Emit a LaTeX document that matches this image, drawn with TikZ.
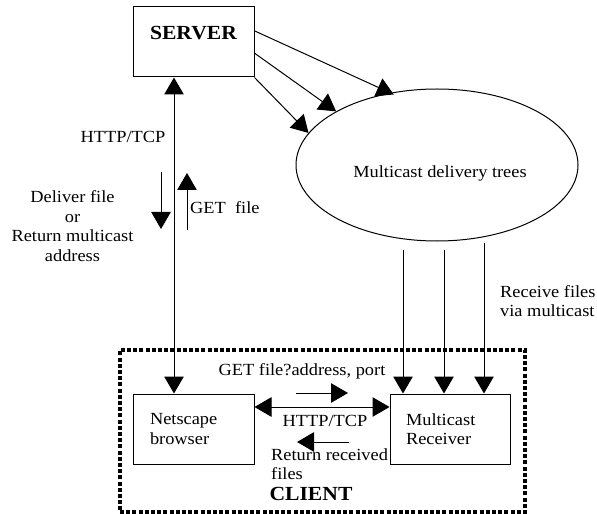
\documentclass[tikz,border=0pt]{standalone}
\usepackage{fontspec}
\setmainfont{Liberation Serif}[FakeStretch=1.08]
\usetikzlibrary{arrows.meta,shapes.geometric,calc}
\begin{document}
\begin{tikzpicture}[x=1bp,y=-1bp,
  font=\fontsize{17bp}{19.5bp}\selectfont,
  box/.style={draw, line width=1bp, inner sep=0pt},
  bigfont/.style={font=\fontsize{20bp}{24bp}\selectfont\bfseries},
  lbl/.style={inner sep=0pt},
  arr/.style={line width=1bp, -{Triangle[length=17bp,width=19.5bp]}},
  arrtwo/.style={line width=1bp, {Triangle[length=17bp,width=19.5bp]}-{Triangle[length=17bp,width=19.5bp]}}]
\useasboundingbox (0,0) rectangle (597,514);

% client dotted frame
\node[draw, line width=3.2bp, dash pattern=on 4bp off 2.2bp, minimum width=405bp, minimum height=162bp, inner sep=0pt] (client) at (322.5,431) {};
\node[lbl, bigfont] (clientlbl) at (311,494) {CLIENT};

% server box
\node[box, minimum width=121bp, minimum height=70bp] (server) at (193.5,42) {};
\node[lbl, bigfont] (serverlbl) at (193.5,33) {SERVER};

% ellipse
\node[draw, ellipse, line width=1bp, minimum width=282bp, minimum height=152bp, inner sep=0pt] (mdt) at (437,165) {};
\node[lbl] (mdtlbl) at (440,173) {Multicast delivery trees};

% client boxes
\node[box, minimum width=121bp, minimum height=70bp, text width=87bp, inner xsep=17bp, align=left] (ns) at (193.5,429) {Netscape\\browser};
\node[box, minimum width=120bp, minimum height=70bp, text width=88bp, inner xsep=16bp, align=left] (rcv) at (450,429) {Multicast\\Receiver};

% server -> multicast tree arrows
\draw[arr, shorten >=-4bp] ($(server.north east)!0.343!(server.south east)$) -- (mdt.123);
\draw[arr] ($(server.north east)!0.657!(server.south east)$) -- (mdt.152.5);
\draw[arr] (server.south east) -- (mdt.166.9);

% server <-> browser
\coordinate (sn) at (174,250);
\draw[arrtwo] (server.south -| sn) -- (ns.north -| sn);
\node[lbl] (httpa) at (123,137) {HTTP/TCP};
\coordinate (dA) at (161,172);
\coordinate (dB) at (161,229);
\draw[arr] (dA) -- (dB);
\coordinate (uA) at (187,230);
\coordinate (uB) at (187,173);
\draw[arr] (uA) -- (uB);
\node[lbl, align=center] (deliver) at (72.5,226) {Deliver file\\or\\Return multicast\\address};
\node[lbl, anchor=west] (getfile) at (190,208) {GET\ \ file};

% multicast receive arrows
\coordinate (v1) at (403,250);
\coordinate (v2) at (444,250);
\coordinate (v3) at (484,243);
\draw[arr] (v1) -- (v1 |- rcv.north);
\draw[arr] (v2) -- (v2 |- rcv.north);
\draw[arr] (v3) -- (v3 |- rcv.north);
\node[lbl, anchor=west, align=left] (recvlbl) at (500,301) {Receive files\\via multicast};

% browser <-> receiver
\coordinate (h) at (320,407);
\draw[arrtwo] (ns.east |- h) -- (rcv.west |- h);
\node[lbl] (getaddr) at (302,371) {GET file?address, port};
\coordinate (rA) at (296,393);
\coordinate (rB) at (348,393);
\draw[arr] (rA) -- (rB);
\node[lbl] (httpb) at (325,421) {HTTP/TCP};
\coordinate (lA) at (349,442);
\coordinate (lB) at (297,442);
\draw[arr] (lA) -- (lB);
\node[lbl, anchor=west, align=left] (retlbl) at (271,464) {Return received\\files};
\end{tikzpicture}
\end{document}
